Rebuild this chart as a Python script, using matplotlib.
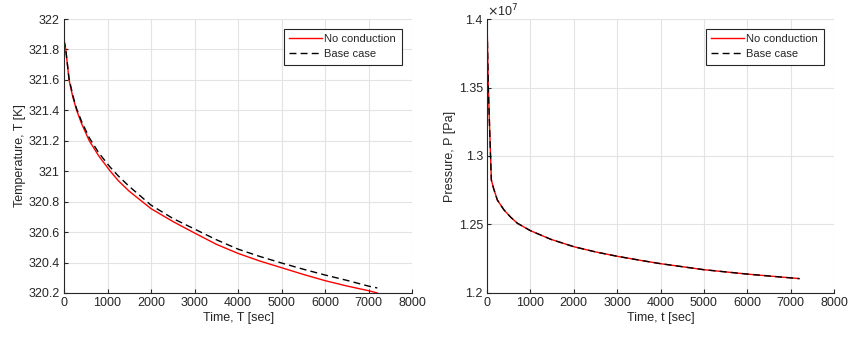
import matplotlib
matplotlib.use("Agg")
import matplotlib.pyplot as plt
from matplotlib.ticker import FuncFormatter

plt.rcParams['font.family'] = ['Liberation Sans', 'DejaVu Sans']

# Temperature history
t_temp = [0, 40, 115, 200, 290, 400, 580, 800, 1050, 1250, 1500, 2000, 2500,
          3000, 3500, 4000, 4500, 5000, 5500, 6000, 6500, 7000, 7200]
temp_no_cond = [321.86, 321.80, 321.60, 321.49, 321.40, 321.315, 321.20, 321.10,
                321.005, 320.937, 320.868, 320.754, 320.67, 320.594, 320.52,
                320.46, 320.41, 320.366, 320.322, 320.281, 320.246, 320.215,
                320.20]
temp_base = [321.86, 321.80, 321.61, 321.50, 321.41, 321.33, 321.22, 321.12,
             321.03, 320.968, 320.90, 320.777, 320.69, 320.62, 320.55, 320.488,
             320.44, 320.397, 320.356, 320.318, 320.283, 320.245, 320.233]

# Pressure history [Pa]
t_pres = [0, 30, 69, 100, 150, 238, 392, 550, 700, 1000, 1470, 2000, 2500,
          3000, 3600, 4000, 4500, 5000, 5500, 6000, 6500, 7200]
pres_no_cond = [1.400e7, 1.350e7, 1.312e7, 1.2825e7, 1.2765e7, 1.2679e7,
                1.2606e7, 1.2552e7, 1.2509e7, 1.2455e7, 1.2392e7, 1.2338e7,
                1.2300e7, 1.2268e7, 1.2235e7, 1.2214e7, 1.2192e7, 1.2170e7,
                1.2154e7, 1.2138e7, 1.2124e7, 1.2105e7]
pres_base = [1.400e7, 1.350e7, 1.312e7, 1.2825e7, 1.2765e7, 1.2679e7,
             1.2606e7, 1.2552e7, 1.2509e7, 1.2455e7, 1.2392e7, 1.2338e7,
             1.2300e7, 1.2268e7, 1.2235e7, 1.2214e7, 1.2192e7, 1.2170e7,
             1.2154e7, 1.2138e7, 1.2124e7, 1.2105e7]

x_ticks = [0, 1000, 2000, 3000, 4000, 5000, 6000, 7000, 8000]
temp_ticks = [320.2, 320.4, 320.6, 320.8, 321, 321.2, 321.4, 321.6, 321.8, 322]
pres_ticks = [1.2e7, 1.25e7, 1.3e7, 1.35e7, 1.4e7]

txt = '#262626'
fig = plt.figure(figsize=(8.48, 3.37), dpi=100)
ax1 = fig.add_axes([0.0755, 0.1306, 0.4105, 0.813])
ax2 = fig.add_axes([0.5743, 0.1306, 0.4092, 0.813])


def style(ax):
    ax.set_xlim(0, 8000)
    ax.set_xticks(x_ticks)
    ax.grid(True, color='#e3e3e3', linewidth=0.8)
    ax.set_axisbelow(True)
    for s in ['top', 'right']:
        ax.spines[s].set_visible(False)
    for s in ['left', 'bottom']:
        ax.spines[s].set_color(txt)
        ax.spines[s].set_linewidth(0.8)
    ax.tick_params(direction='in', length=3, width=0.8, colors=txt,
                   labelsize=9, pad=3)
    ax.xaxis.set_major_formatter(FuncFormatter(lambda v, p: f'{v:g}'))


ax1.plot(t_temp, temp_no_cond, color='#ff0000', lw=1.0, label='No conduction')
ax1.plot(t_temp, temp_base, color='black', lw=1.0, ls=(0, (5, 3)),
         label='Base case')
style(ax1)
ax1.set_ylim(320.2, 322)
ax1.set_yticks(temp_ticks)
ax1.yaxis.set_major_formatter(FuncFormatter(lambda v, p: f'{v:g}'))
ax1.set_xlabel('Time, T [sec]', fontsize=9, color=txt, labelpad=2)
ax1.set_ylabel('Temperature, T [K]', fontsize=9, color=txt, labelpad=2)

ax2.plot(t_pres, pres_no_cond, color='#ff0000', lw=1.0, label='No conduction')
ax2.plot(t_pres, pres_base, color='black', lw=1.0, ls=(0, (5, 3)),
         label='Base case')
style(ax2)
ax2.set_ylim(1.2e7, 1.4e7)
ax2.set_yticks(pres_ticks)
ax2.yaxis.set_major_formatter(FuncFormatter(lambda v, p: f'{v / 1e7:g}'))
ax2.set_xlabel('Time, t [sec]', fontsize=9, color=txt, labelpad=2)
ax2.set_ylabel('Pressure, P [Pa]', fontsize=9, color=txt, labelpad=2)
ax2.text(0.0, 1.0, r'$\times$10$^{7}$', transform=ax2.transAxes,
         fontsize=9, color=txt, ha='left', va='bottom')

for ax in (ax1, ax2):
    leg = ax.legend(loc='upper right', bbox_to_anchor=(0.97, 0.965),
                    fontsize=8, fancybox=False, framealpha=1,
                    edgecolor=txt, handlelength=2.9, handletextpad=0.25,
                    borderpad=0.5, labelspacing=0.45, borderaxespad=0)
    leg.get_frame().set_linewidth(0.8)
    for t in leg.get_texts():
        t.set_color(txt)

fig.savefig('out.png', dpi=100)
